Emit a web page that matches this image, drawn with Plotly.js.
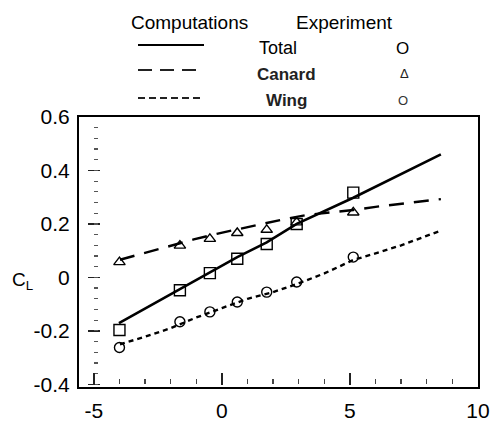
<!DOCTYPE html>
<html>
<head>
<meta charset="utf-8">
<script src="https://cdn.plot.ly/plotly-3.0.1.min.js"></script>
<style>html,body{margin:0;padding:0;background:#fff;}#chart{width:490px;height:425px;}</style>
</head>
<body>
<div id="chart"></div>
<script>
// Experiment (angle of attack, deg) and measured CL
const alphaExp   = [-4.0, -1.64, -0.47, 0.6, 1.75, 2.92, 5.13];
const totalExp   = [-0.197, -0.048, 0.016, 0.07, 0.125, 0.20, 0.317];
const canardExp  = [0.057, 0.119, 0.144, 0.166, 0.178, 0.206, 0.243];
const wingExp    = [-0.262, -0.166, -0.129, -0.092, -0.055, -0.017, 0.076];

// Computations
const alphaTotal = [-4.02, -1.64, -0.47, 0.6, 1.75, 2.92, 5.13, 6.17, 8.55];
const totalComp  = [-0.171, -0.044, 0.02, 0.076, 0.131, 0.20, 0.298, 0.348, 0.46];
const alphaCanard= [-3.98, -3.0, -2.05, -1.1, -0.2, 0.6, 1.5, 2.4, 3.35, 5.13, 6.0, 7.0, 8.55];
const canardComp = [0.066, 0.092, 0.119, 0.142, 0.163, 0.18, 0.2, 0.217, 0.234, 0.252, 0.264, 0.275, 0.293];
const alphaWing  = [-3.98, -3.0, -2.0, -1.0, 0.0, 1.0, 2.0, 2.92, 4.0, 5.13, 6.0, 7.0, 8.55];
const wingComp   = [-0.25, -0.222, -0.19, -0.15, -0.115, -0.08, -0.055, -0.025, 0.015, 0.065, 0.09, 0.12, 0.175];

const xTicks = [-5, 0, 5, 10];
const yTicks = [-0.4, -0.2, 0, 0.2, 0.4, 0.6];
const yTickText = ['-0.4', '-0.2', '0', '0.2', '0.4', '0.6'];
const xMajorTicks = [-5, 0, 5, 10];
const xMinorTicks = [-4, -3, -2, -1, 1, 2, 3, 4, 6, 7, 8, 9];

const FONT = 'Liberation Sans, Arial, sans-serif';

const traces = [
  {x: alphaTotal, y: totalComp, mode: 'lines', line: {color: '#000', width: 2.6}, hoverinfo: 'skip'},
  {x: alphaCanard, y: canardComp, mode: 'lines', line: {color: '#000', width: 2.4, dash: '15px,10px'}, hoverinfo: 'skip'},
  {x: alphaWing, y: wingComp, mode: 'lines', line: {color: '#000', width: 2.4, dash: '5px,4px'}, hoverinfo: 'skip'},
  {x: alphaExp, y: totalExp, mode: 'markers', marker: {symbol: 'square-open', size: 11, color: '#000', line: {width: 1.4}}},
  {x: alphaExp, y: canardExp, mode: 'markers', marker: {symbol: 'triangle-up-open', size: 10, color: '#000', line: {width: 1.4}}},
  {x: alphaExp, y: wingExp, mode: 'markers', marker: {symbol: 'circle-open', size: 10, color: '#000', line: {width: 1.4}}},
  // invisible traces to carry overlay tick axes
  {x: [null], y: [null], xaxis: 'x2', yaxis: 'y', mode: 'markers', showlegend: false, hoverinfo: 'skip'},
  {x: [null], y: [null], xaxis: 'x3', yaxis: 'y', mode: 'markers', showlegend: false, hoverinfo: 'skip'},
  {x: [null], y: [null], xaxis: 'x', yaxis: 'y2', mode: 'markers', showlegend: false, hoverinfo: 'skip'},
  {x: [null], y: [null], xaxis: 'x', yaxis: 'y3', mode: 'markers', showlegend: false, hoverinfo: 'skip'}
];

const px = v => (v - 79) / 399;
const py = v => (387 - v) / 270;

const tickAxis = (extra) => Object.assign({
  showgrid: false, zeroline: false, showline: false, showticklabels: false,
  ticks: 'inside'
}, extra);

const layout = {
  width: 490, height: 425,
  margin: {l: 79, r: 12, t: 117, b: 38},
  paper_bgcolor: '#fff', plot_bgcolor: '#fff',
  showlegend: false,
  font: {family: FONT, color: '#000', size: 18},
  xaxis: {
    range: [-5.58, 10.0], showgrid: false, zeroline: false,
    showline: true, mirror: true, linecolor: '#000', linewidth: 2,
    tickmode: 'array', tickvals: xTicks, ticktext: xTicks.map(String),
    ticks: '', tickfont: {size: 21, family: FONT}, ticklabelstandoff: 4
  },
  yaxis: {
    range: [-0.41, 0.6], showgrid: false, zeroline: false,
    showline: true, mirror: true, linecolor: '#000', linewidth: 2,
    tickmode: 'array', tickvals: yTicks, ticktext: yTickText,
    ticks: '', tickfont: {size: 21, family: FONT}, ticklabelstandoff: 3
  },
  xaxis2: tickAxis({overlaying: 'x', range: [-5.58, 10.0], anchor: 'free', position: 0.008,
    tickmode: 'array', tickvals: xMajorTicks, ticklen: 12, tickwidth: 1.6, tickcolor: '#222'}),
  xaxis3: tickAxis({overlaying: 'x', range: [-5.58, 10.0], anchor: 'free', position: 0.012,
    tickmode: 'array', tickvals: xMinorTicks, ticklen: 5, tickwidth: 1.4, tickcolor: '#444'}),
  yaxis2: tickAxis({overlaying: 'y', range: [-0.41, 0.6], anchor: 'free', position: 0.02, side: 'left',
    tickmode: 'linear', tick0: 0, dtick: 0.2, ticklen: 12, tickwidth: 1.6, tickcolor: '#222'}),
  yaxis3: tickAxis({overlaying: 'y', range: [-0.41, 0.6], anchor: 'free', position: 0.035, side: 'left',
    tickmode: 'linear', tick0: 0, dtick: 0.04, ticklen: 4, tickwidth: 1.2, tickcolor: '#555'}),
  shapes: [
    {type: 'line', xref: 'paper', yref: 'paper', x0: px(138), x1: px(204), y0: py(45), y1: py(45), line: {color: '#000', width: 2}},
    {type: 'line', xref: 'paper', yref: 'paper', x0: px(138), x1: px(204), y0: py(70), y1: py(70), line: {color: '#222', width: 2, dash: '14px,8px'}},
    {type: 'line', xref: 'paper', yref: 'paper', x0: px(138), x1: px(204), y0: py(98), y1: py(98), line: {color: '#222', width: 2, dash: '7px,4px'}}
  ],
  annotations: [
    {text: 'Computations', x: px(189), y: py(22), xref: 'paper', yref: 'paper', showarrow: false, xanchor: 'center', yanchor: 'middle', font: {size: 19}},
    {text: 'Experiment', x: px(344), y: py(22), xref: 'paper', yref: 'paper', showarrow: false, xanchor: 'center', yanchor: 'middle', font: {size: 19}},
    {text: 'Total', x: px(278), y: py(48), xref: 'paper', yref: 'paper', showarrow: false, xanchor: 'center', yanchor: 'middle', font: {size: 18}},
    {text: 'O', x: px(402), y: py(48), xref: 'paper', yref: 'paper', showarrow: false, xanchor: 'center', yanchor: 'middle', font: {size: 17}},
    {text: 'Canard', x: px(286), y: py(74), xref: 'paper', yref: 'paper', showarrow: false, xanchor: 'center', yanchor: 'middle', font: {size: 17, color: '#222', weight: 'bold'}},
    {text: 'Δ', x: px(404), y: py(73), xref: 'paper', yref: 'paper', showarrow: false, xanchor: 'center', yanchor: 'middle', font: {size: 13, color: '#222'}},
    {text: 'Wing', x: px(286), y: py(101), xref: 'paper', yref: 'paper', showarrow: false, xanchor: 'center', yanchor: 'middle', font: {size: 17, color: '#222', weight: 'bold'}},
    {text: 'O', x: px(403), y: py(100), xref: 'paper', yref: 'paper', showarrow: false, xanchor: 'center', yanchor: 'middle', font: {size: 13, color: '#333'}},
    {text: 'C<sub>L</sub>', x: px(22), y: py(281), xref: 'paper', yref: 'paper', showarrow: false, xanchor: 'center', yanchor: 'middle', font: {size: 19}}
  ]
};

Plotly.newPlot('chart', traces, layout, {staticPlot: true, displayModeBar: false});
</script>
</body>
</html>
